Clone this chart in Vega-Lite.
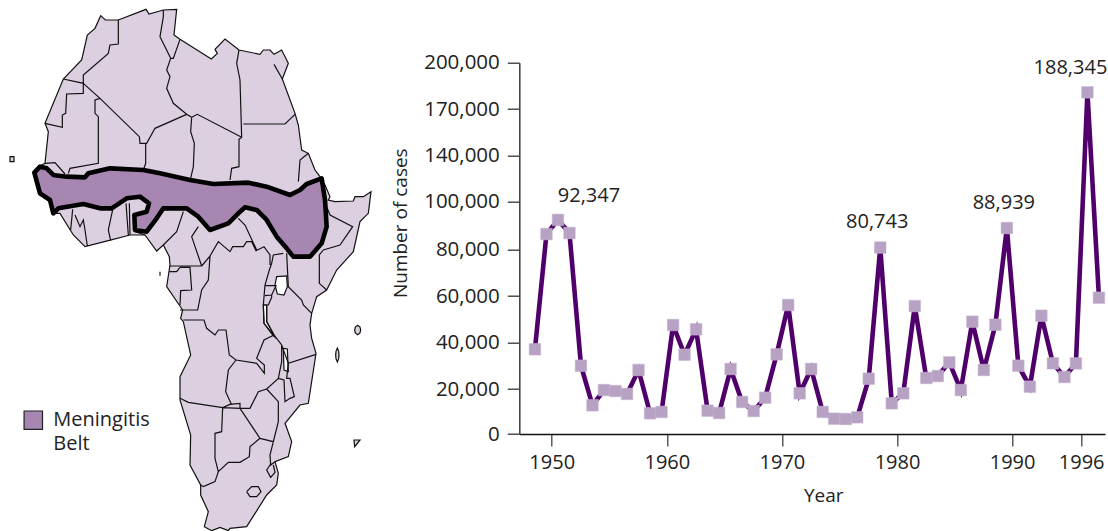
{
"$schema":"https://vega.github.io/schema/vega-lite/v6.json",
"autosize":"none","width":585.7,"height":371.3,
"padding":{"left":519.3,"top":62.7,"right":3,"bottom":97},
"background":"white",
"config":{"view":{"stroke":null},"font":"Open Sans","text":{"font":"Open Sans"}},
"datasets":{
"land":[
{"type":"Feature","properties":{"name":"Africa"},"geometry":{"type":"Polygon","coordinates":[[[302,47],[316,60],[355,60],[438,28],[447,42],[490,30],[530,28],[522,105],[540,118],[634,177],[652,160],[645,148],[675,117],[717,150],[780,163],[790,150],[810,150],[822,163],[845,150],[865,190],[847,237],[885,340],[895,375],[905,450],[925,460],[945,510],[960,530],[975,555],[990,590],[985,600],[1005,605],[1060,603],[1065,590],[1090,590],[1113,575],[1105,640],[1080,665],[1060,755],[1010,810],[980,870],[950,890],[935,940],[930,975],[935,1015],[948,1060],[925,1210],[900,1215],[855,1270],[875,1325],[865,1370],[825,1385],[835,1420],[830,1455],[800,1485],[740,1580],[690,1585],[685,1592],[660,1582],[635,1592],[613,1580],[625,1535],[602,1485],[602,1455],[570,1395],[572,1305],[540,1200],[540,1130],[572,1065],[550,965],[542,955],[548,930],[500,860],[510,795],[508,770],[490,735],[470,753],[435,705],[390,705],[325,722],[255,740],[220,705],[180,640],[165,640],[145,600],[120,580],[102,515],[115,500],[135,490],[145,395],[135,370],[190,237],[245,180],[262,105],[285,85],[302,47]]]}},
{"type":"Feature","properties":{"name":"Cape Verde"},"geometry":{"type":"Polygon","coordinates":[[[30,470],[42,470],[42,485],[30,485],[30,470]]]}},
{"type":"Feature","properties":{"name":"Comoros"},"geometry":{"type":"Polygon","coordinates":[[[1073,976],[1080,981],[1082,990],[1080,999],[1073,1004],[1066,999],[1064,990],[1066,981],[1073,976]]]}},
{"type":"Feature","properties":{"name":"Reunion"},"geometry":{"type":"Polygon","coordinates":[[[1012,1044],[1016,1054],[1017,1065],[1016,1076],[1012,1086],[1008,1076],[1007,1065],[1008,1054],[1012,1044]]]}},
{"type":"Feature","properties":{"name":"Southeast islet"},"geometry":{"type":"Polygon","coordinates":[[[1062,1320],[1080,1320],[1064,1340],[1062,1320]]]}}
],
"borders":[{"type":"Feature","properties":{"name":"borders"},"geometry":{"type":"MultiLineString","coordinates":[
[[355,60],[355,132],[330,135],[325,160],[250,225],[250,250]],
[[190,237],[250,250],[250,280],[200,282],[197,340],[187,345],[187,382],[135,370]],
[[250,250],[300,295],[418,410],[420,430],[440,430],[465,385],[560,343]],
[[560,343],[520,310],[500,265],[510,230],[500,210],[512,175],[495,140],[480,110],[490,50],[490,30]],
[[540,118],[520,175],[512,175]],
[[300,295],[285,300],[285,340],[295,350],[295,490],[210,505],[205,520]],
[[135,490],[165,488],[195,522]],
[[437,430],[437,490],[430,510]],
[[560,343],[575,352],[592,343],[725,412]],
[[575,352],[572,395],[583,430],[580,500],[572,535]],
[[717,150],[710,190],[720,240],[725,412],[717,418],[717,500],[695,505],[690,540]],
[[730,372],[855,372],[885,343]],
[[925,460],[900,480],[895,545]],
[[822,193],[847,237]],
[[980,620],[990,645],[1058,680],[1020,735],[970,750],[958,765],[958,850],[980,870]],
[[860,760],[865,860],[905,900],[910,915],[935,940]],
[[850,760],[820,765],[815,790],[808,810],[795,855],[790,915],[792,970],[820,1005],[828,1015]],
[[800,915],[800,965],[822,1005]],
[[795,857],[828,857],[815,885],[795,887]],
[[815,885],[815,892],[805,915],[792,915]],
[[630,768],[655,725],[690,755],[698,740],[730,740],[740,725],[755,725],[768,752],[792,740],[810,765],[810,795]],
[[715,655],[735,675],[770,750]],
[[595,680],[575,710],[605,798]],
[[550,635],[530,695],[490,735]],
[[508,798],[605,798]],
[[508,815],[530,815],[540,802]],
[[540,802],[570,802],[575,870],[542,872],[540,915]],
[[605,798],[630,768],[625,840],[605,870],[593,930],[540,930]],
[[550,960],[612,960],[620,985],[645,1005],[655,990],[678,990],[688,1065],[708,1080],[770,1090],[793,1120],[793,1095],[770,1075],[792,1020],[822,1005],[845,1035],[845,1085],[835,1135],[800,1167],[775,1175],[750,1225],[720,1225],[720,1210],[690,1213],[668,1223],[565,1207],[540,1195]],
[[708,1080],[685,1110],[677,1175],[695,1215]],
[[668,1223],[665,1295],[645,1300],[645,1375],[655,1415],[645,1445],[610,1460],[602,1455]],
[[668,1223],[720,1225],[780,1315],[750,1340],[748,1370],[720,1387],[685,1387],[655,1415]],
[[780,1315],[820,1325],[835,1265],[835,1205],[800,1167]],
[[820,1325],[810,1365],[812,1395],[825,1385]],
[[812,1392],[800,1410],[812,1432],[825,1417],[820,1395]],
[[740,1475],[755,1460],[775,1460],[783,1475],[770,1490],[750,1490],[740,1475]],
[[845,1035],[865,1090],[948,1063]],
[[835,1135],[852,1140],[855,1205],[870,1195],[883,1190],[870,1135],[860,1135],[865,1090]],
[[218,628],[212,690]],
[[225,645],[240,680],[250,660],[255,690],[262,738]],
[[340,620],[325,690],[332,722]],
[[388,610],[390,705]],
[[378,610],[385,705]],
[[405,650],[405,695],[435,705]],
[[480,815],[480,827]]
]}}],
"lakes":[
{"type":"Feature","properties":{"name":"Lake Victoria"},"geometry":{"type":"Polygon","coordinates":[[[830,830],[860,828],[862,860],[852,885],[832,882],[825,855],[830,830]]]}},
{"type":"Feature","properties":{"name":"Lake Malawi"},"geometry":{"type":"Polygon","coordinates":[[[850,1045],[862,1047],[865,1115],[852,1110],[850,1045]]]}},
{"type":"Feature","properties":{"name":"Lake Tanganyika"},"geometry":{"type":"Polygon","coordinates":[[[790,915],[800,915],[800,965],[822,1005],[820,1008],[792,970],[790,915]]]}}
],
"belt":[{"type":"Feature","properties":{"zone":"Meningitis Belt"},"geometry":{"type":"Polygon","coordinates":[[[103,518],[120,500],[140,505],[160,525],[200,530],[255,532],[265,520],[330,505],[430,510],[480,520],[570,540],[640,552],[745,548],[800,560],[870,585],[900,570],[920,552],[965,535],[975,600],[980,680],[965,730],[930,770],[880,770],[860,745],[830,710],[800,660],[770,630],[735,622],[715,640],[685,670],[630,690],[595,650],[560,625],[490,625],[470,655],[440,695],[405,690],[403,645],[440,635],[447,610],[420,590],[380,595],[335,625],[300,625],[250,612],[175,625],[160,640],[150,600],[120,580],[103,518]]]}}],
"cases":[
{"year":1948,"cases":37150},{"year":1949,"cases":86400},{"year":1950,"cases":92347,"label":"92,347"},{"year":1951,"cases":86850},{"year":1952,"cases":30060},{"year":1953,"cases":12750},{"year":1954,"cases":19550},{"year":1955,"cases":19100},{"year":1956,"cases":17800},{"year":1957,"cases":28200},{"year":1958,"cases":9200},{"year":1959,"cases":9800},{"year":1960,"cases":47580},{"year":1961,"cases":34800},{"year":1962,"cases":45740},{"year":1963,"cases":10360},{"year":1964,"cases":9330},{"year":1965,"cases":28640},{"year":1966,"cases":14220},{"year":1967,"cases":10220},{"year":1968,"cases":16130},{"year":1969,"cases":34960},{"year":1970,"cases":56150},{"year":1971,"cases":18080},{"year":1972,"cases":28640},{"year":1973,"cases":9800},{"year":1974,"cases":6800},{"year":1975,"cases":6670},{"year":1976,"cases":7420},{"year":1977,"cases":24450},{"year":1978,"cases":80743,"label":"80,743"},{"year":1979,"cases":13640},{"year":1980,"cases":18080},{"year":1981,"cases":55700},{"year":1982,"cases":24750},{"year":1983,"cases":25600},{"year":1984,"cases":31500},{"year":1985,"cases":19550},{"year":1986,"cases":49000},{"year":1987,"cases":28200},{"year":1988,"cases":47700},{"year":1989,"cases":88939,"label":"88,939"},{"year":1990,"cases":30060},{"year":1991,"cases":21000},{"year":1992,"cases":51560},{"year":1993,"cases":31100},{"year":1994,"cases":25180},{"year":1995,"cases":31060},{"year":1996,"cases":188345,"label":"188,345"},{"year":1997,"cases":59270}
]},
"resolve":{"scale":{"color":"independent"}},
"layer":[
{"data":{"name":"land"},"projection":{"type":"identity","scale":0.33333,"translate":[-519.3,-62.7]},"mark":{"type":"geoshape","fill":"#dcd0e0","stroke":"#111111","strokeWidth":1.2,"clip":false}},
{"data":{"name":"lakes"},"projection":{"type":"identity","scale":0.33333,"translate":[-519.3,-62.7]},"mark":{"type":"geoshape","fill":"#ffffff","stroke":"#111111","strokeWidth":1.2,"clip":false}},
{"data":{"name":"borders"},"projection":{"type":"identity","scale":0.33333,"translate":[-519.3,-62.7]},"mark":{"type":"geoshape","filled":false,"stroke":"#111111","strokeWidth":1.2,"clip":false}},
{"data":{"name":"belt"},"projection":{"type":"identity","scale":0.33333,"translate":[-519.3,-62.7]},"mark":{"type":"geoshape","stroke":"#000000","strokeWidth":4.6,"strokeJoin":"round","clip":false},
 "encoding":{"color":{"field":"properties.zone","type":"nominal","scale":{"domain":["Meningitis Belt"],"range":["#a787b1"]},
  "legend":{"title":null,"orient":"none","legendX":-496,"legendY":347.5,"symbolType":"square","symbolSize":340,"symbolStrokeColor":"#222222","symbolStrokeWidth":1.2,"symbolOpacity":1,"labelFont":"Open Sans","labelFontSize":20,"labelColor":"#222222","labelOffset":10,"labelLimit":200,"labelExpr":"['Meningitis','Belt']","padding":0,"encode":{"labels":{"update":{"lineHeight":{"value":24}}}}}}}},
{"data":{"name":"cases"},
 "encoding":{
  "x":{"field":"year","type":"ordinal","title":"Year","scale":{"type":"band","paddingInner":0,"paddingOuter":0.443,"align":0.97},
   "axis":{"values":[1950,1960,1970,1980,1990,1996],"bandPosition":0,"labelOffset":-5.75,"labelAngle":0,"labelFont":"Open Sans","labelFontSize":20,"labelColor":"#222222","labelPadding":6,"tickSize":12,"tickColor":"#444444","tickWidth":1.3,"domainColor":"#111111","domainWidth":1.6,"titleFont":"Open Sans","titleFontSize":19,"titleFontWeight":"normal","titleColor":"#222222","titleX":304,"titleY":52,"grid":false}},
  "y":{"field":"cases","type":"quantitative","title":"Number of cases",
   "scale":{"domain":[0,20000,40000,60000,80000,100000,140000,170000,188345,200000],"range":[371.3,326.3,280,233.3,186.6,139,92.6,46.3,29.6,0],"nice":false,"zero":false,"clamp":false},
   "axis":{"values":[0,20000,40000,60000,80000,100000,140000,170000,200000],"labelExpr":"format(datum.value, ',')","labelFont":"Open Sans","labelFontSize":20.5,"labelColor":"#222222","labelPadding":8,"tickSize":12,"tickColor":"#333333","tickWidth":1.3,"domainColor":"#444444","domainWidth":1.6,"titleFont":"Open Sans","titleFontSize":19,"titleFontWeight":"normal","titleColor":"#222222","titlePadding":13,"titleY":160,"grid":false,"labelOverlap":false}}
 },
 "layer":[
  {"mark":{"type":"line","color":"#50006a","strokeWidth":4.6,"strokeJoin":"miter","strokeMiterLimit":4}},
  {"mark":{"type":"point","shape":"square","filled":true,"color":"#b8a2c4","opacity":1,"size":135,"stroke":"#c9b8d2","strokeWidth":0.5}},
  {"transform":[{"filter":"datum.year===1950"}],"mark":{"type":"text","font":"Open Sans","fontSize":20,"color":"#222222","dx":31,"dy":-24},"encoding":{"text":{"field":"label"}}},
  {"transform":[{"filter":"datum.year===1978"}],"mark":{"type":"text","font":"Open Sans","fontSize":20,"color":"#222222","dx":-3,"dy":-26},"encoding":{"text":{"field":"label"}}},
  {"transform":[{"filter":"datum.year===1989"}],"mark":{"type":"text","font":"Open Sans","fontSize":20,"color":"#222222","dx":-3,"dy":-25},"encoding":{"text":{"field":"label"}}},
  {"transform":[{"filter":"datum.year===1996"}],"mark":{"type":"text","font":"Open Sans","fontSize":20,"color":"#222222","dx":-17,"dy":-24},"encoding":{"text":{"field":"label"}}}
 ]}
]
}
